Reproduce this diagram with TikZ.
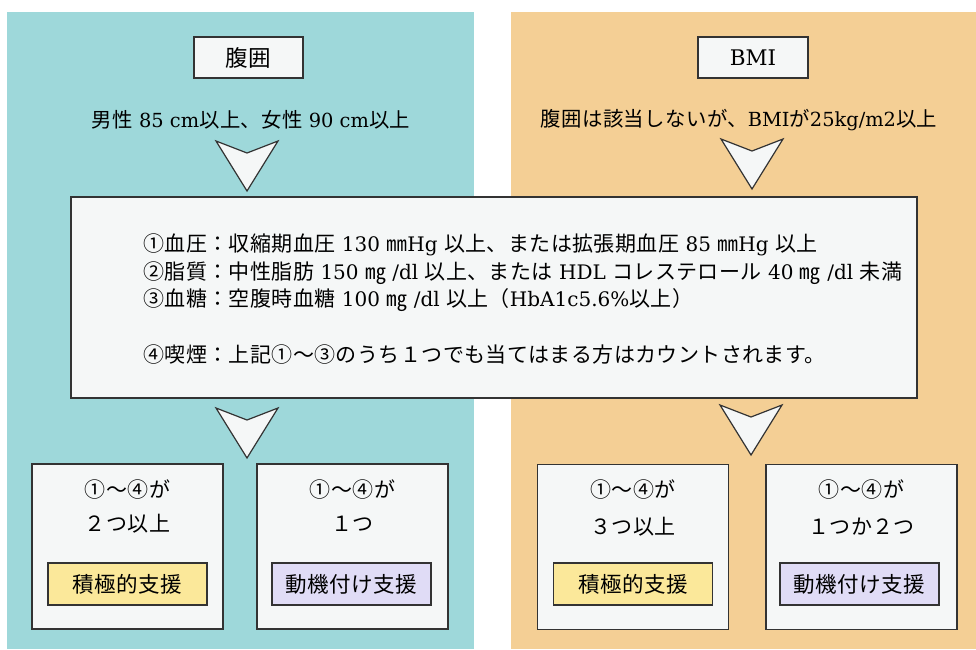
\documentclass[tikz,border=0pt]{standalone}
\usepackage{fontspec}
\setmainfont{DejaVu Serif}
\newfontfamily\jp[Scale=1.05,LetterSpace=2]{Noto Sans CJK JP}
\newcommand\J[1]{{\jp #1}}
\definecolor{tealbg}{HTML}{9ED8DA}
\definecolor{orngbg}{HTML}{F4CF95}
\definecolor{boxfill}{HTML}{F5F7F7}
\definecolor{yel}{HTML}{FBE89A}
\definecolor{purp}{HTML}{E0DCF6}
\definecolor{edge}{HTML}{333333}
\begin{document}
\begin{tikzpicture}[x=1pt,y=-1pt,
  wbox/.style={draw=edge,line width=1.2pt,fill=boxfill,inner sep=0pt},
  txt/.style={inner sep=0pt,font=\fontsize{20}{24}\selectfont},
  crit/.style={inner sep=0pt,font=\fontsize{19.4}{24}\selectfont},
  hdr/.style={wbox,font=\fontsize{21.5}{26}\selectfont,minimum height=41pt},
  res/.style={wbox,minimum width=191pt,minimum height=165pt},
  tag/.style={draw=edge,line width=1.2pt,inner sep=0pt,minimum width=159pt,minimum height=42pt,font=\jp\fontsize{20.5}{25}\selectfont},
  chev/.pic={\draw[edge,line width=1.2pt,fill=boxfill] (-31,0)--(0,12)--(31,0)--(0,50)--cycle;}
]
\useasboundingbox (0,0) rectangle (976,649);
\fill[white] (0,0) rectangle (976,649);
% panels
\fill[tealbg] (7,12) rectangle (474,649);
\fill[orngbg] (511,12) rectangle (976,649);

% headers
\node[hdr,minimum width=109pt] (hdrL) at (248.5,57.5) {\J{腹囲}};
\node[hdr,minimum width=110pt] (hdrR) at (753,57.5) {BMI};

% criteria
\node[crit] (critL) at (251,120) {\J{男性} 85 cm\J{以上、女性} 90 cm\J{以上}};
\node[crit] (critR) at (739,120) {\J{腹囲は該当しないが、}BMI\J{が}25kg/m2\J{以上}};

% chevrons top
\pic at (247,141) {chev};
\pic at (752,139) {chev};

% middle box
\node[wbox,minimum width=846pt,minimum height=201pt] (mid) at (494,297.5) {};
\node[txt,anchor=west] (l1) at (143,245) {\J{①血圧：収縮期血圧} 130 \J{㎜}Hg \J{以上、または拡張期血圧} 85 \J{㎜}Hg \J{以上}};
\node[txt,anchor=west] (l2) at (143,273) {\J{②脂質：中性脂肪} 150 \J{㎎} /dl \J{以上、または} HDL \J{コレステロール} 40 \J{㎎} /dl \J{未満}};
\node[txt,anchor=west] (l3) at (143,300) {\J{③血糖：空腹時血糖} 100 \J{㎎} /dl \J{以上（}HbA1c5.6\%\J{以上）}};
\node[txt,anchor=west] (l4) at (143,355) {\J{④喫煙：上記①〜③のうち１つでも当てはまる方はカウントされます。}};

% chevrons bottom
\pic at (247,408) {chev};
\pic at (751,405) {chev};

% result boxes
\node[res] (b1) at (127.5,546.5) {};
\node[res] (b2) at (352.5,546.5) {};
\node[res] (b3) at (633,547) {};
\node[res] (b4) at (861.5,547) {};

\node[txt] (b1a) at (127.5,490) {\J{①〜④が}};
\node[txt] (b1b) at (127.5,524) {\J{２つ以上}};
\node[txt] (b2a) at (352.5,490) {\J{①〜④が}};
\node[txt] (b2b) at (352.5,524) {\J{１つ}};
\node[txt] (b3a) at (633,490) {\J{①〜④が}};
\node[txt] (b3b) at (633,527) {\J{３つ以上}};
\node[txt] (b4a) at (861.5,490) {\J{①〜④が}};
\node[txt] (b4b) at (861.5,527) {\J{１つか２つ}};

\node[tag,fill=yel] (y1) at (127.5,584) {積極的支援};
\node[tag,fill=purp] (p1) at (351.5,584) {動機付け支援};
\node[tag,fill=yel] (y2) at (633,584) {積極的支援};
\node[tag,fill=purp] (p2) at (859.5,584) {動機付け支援};
\end{tikzpicture}
\end{document}
